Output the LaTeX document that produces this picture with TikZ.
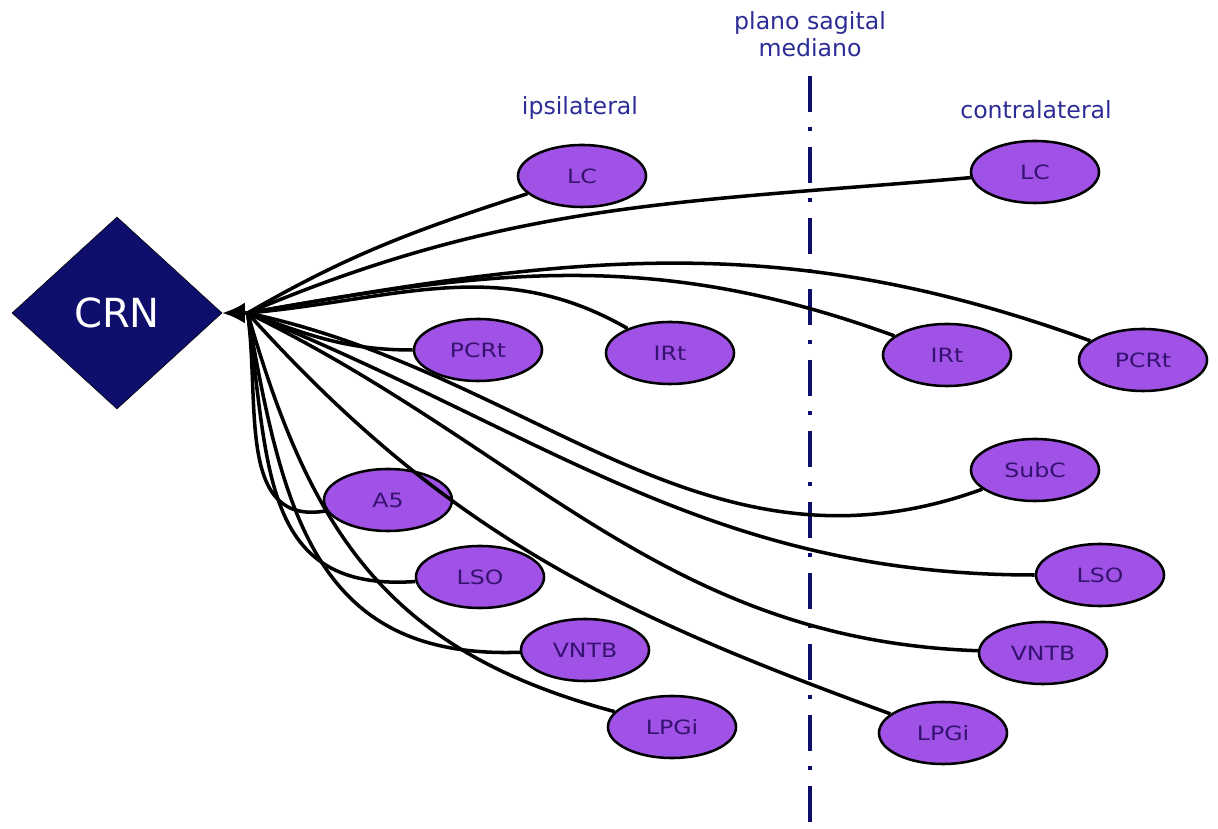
\documentclass[tikz,border=0pt]{standalone}
\usepackage{fontspec}
\setmainfont{DejaVu Sans}
\newfontfamily\nucfont[FakeStretch=1.2]{DejaVu Sans}
\usepackage{tikz}
\usetikzlibrary{arrows.meta,positioning,shapes.geometric}
\usepackage{xcolor}
\definecolor{roxo}{HTML}{A052E6}
\definecolor{roxoesc}{HTML}{361270}
\definecolor{azulesc}{HTML}{0E0E6C}
\definecolor{azultx}{HTML}{2C2C96}

\begin{document}
\begin{tikzpicture}[x=0.025cm,y=0.025cm,
	via/.style={line width=2.5pt},
	eixo/.style={azulesc,line width=2.2pt,dash pattern=on 25.5pt off 11pt on 2.5pt off 11.5pt},
	lado/.style={text=azultx,font=\fontsize{16.8}{19.5}\selectfont}]
\useasboundingbox (0,0) rectangle (1218,829);

\node[diamond,draw=black,fill=azulesc,aspect=1.1,minimum width=5.25cm,minimum height=4.8cm,inner sep=0pt,
	text=white,font=\fontsize{28.5}{31}\selectfont] (crn) at (117,516) {CRN};
\coordinate[right=18pt of crn.east] (hub);

\node[lado] (ipsi) at (580,721) {ipsilateral};
\node[lado] (contra) at (1036,719) {contralateral};
\node[lado,align=center] (plano) at (810,795) {plano sagital\\mediano};
\coordinate (meio) at (810,0);
\draw[eixo,shorten <=10pt] (plano.south) -- (meio);

\begin{scope}[every node/.style={ellipse,draw=black,line width=1.8pt,fill=roxo,text=roxoesc,
	minimum width=3.2cm,minimum height=1.55cm,inner sep=0pt,font=\nucfont\fontsize{14}{16}\selectfont}]
	\node (lcipsi) at (582,653) {LC};
	\node (lccontra) at (1035,657) {LC};
	\node (pcrtipsi) at (478,479) {PCRt};
	\node (irtipsi) at (670,476) {IRt};
	\node (irtcontra) at (947,474) {IRt};
	\node (pcrtcontra) at (1143,469) {PCRt};
	\node (subc) at (1035,359) {SubC};
	\node (afive) at (388,329) {A5};
	\node (lsoipsi) at (480,252) {LSO};
	\node (lsocontra) at (1100,254) {LSO};
	\node (vntbipsi) at (585,179) {VNTB};
	\node (vntbcontra) at (1043,176) {VNTB};
	\node (lpgiipsi) at (672,102) {LPGi};
	\node (lpgicontra) at (943,96) {LPGi};
\end{scope}

\begin{scope}[via]
	\draw[-{Latex[length=16pt,width=15pt]}] (hub) -- (crn.east);
	\draw (hub) to[out=30,in=198] (lcipsi);
	\draw (hub) to[out=23,in=185] (lccontra);
	\draw (hub) to[out=10,in=160] (pcrtcontra);
	\draw (hub) to[out=10,in=160] (irtcontra);
	\draw (hub) to[out=5,in=150] (irtipsi);
	\draw (hub) to[out=-20,in=180] (pcrtipsi);
	\draw (hub) to[out=-12,in=200] (subc);
	\draw (hub) to[out=-22,in=180] (lsocontra);
	\draw (hub) to[out=-26,in=178] (vntbcontra);
	\draw (hub) to[out=-48,in=160] (lpgicontra);
	\draw (hub) to[out=-74,in=165,looseness=1.1] (lpgiipsi);
	\draw (hub) to[out=-80,in=182,looseness=1.2] (vntbipsi);
	\draw (hub) to[out=-82,in=184,looseness=1.25] (lsoipsi);
	\draw (hub) to[out=-82,in=190,looseness=1.1] (afive);
\end{scope}
\end{tikzpicture}
\end{document}
